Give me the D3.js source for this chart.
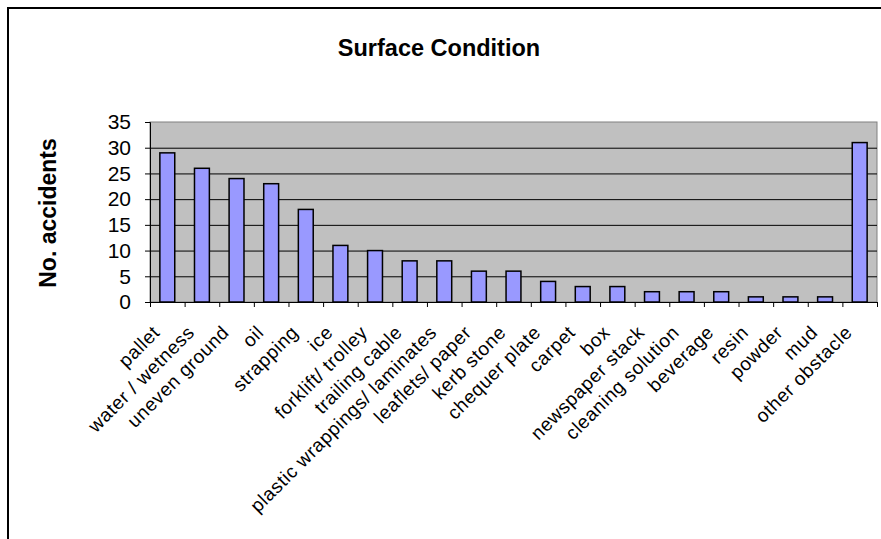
<!DOCTYPE html>
<html>
<head>
<meta charset="utf-8">
<script src="https://cdn.jsdelivr.net/npm/d3@7"></script>
<style>
  body { margin: 0; background: #fff; }
  svg { display: block; font-family: Arial, "Liberation Sans", sans-serif; }
</style>
</head>
<body>
<svg id="chart" width="881" height="539"></svg>
<script>
// Surface condition bar chart

const categories = [
  'pallet', 'water / wetness', 'uneven ground', 'oil', 'strapping', 'ice',
  'forklift/ trolley', 'trailing cable', 'plastic wrappings/ laminates',
  'leaflets/ paper', 'kerb stone', 'chequer plate', 'carpet', 'box',
  'newspaper stack', 'cleaning solution', 'beverage', 'resin', 'powder',
  'mud', 'other obstacle'
];
const accidents = [29, 26, 24, 23, 18, 11, 10, 8, 8, 6, 6, 4, 3, 3, 2, 2, 2, 1, 1, 1, 31];
const yTicks = [0, 5, 10, 15, 20, 25, 30, 35];

const W = 881, H = 539;
const plot = { left: 150, right: 877, top: 122, bottom: 302 };

const svg = d3.select('#chart');

// outer chart frame (runs off the right and bottom edges)
svg.append('rect')
  .attr('x', 8).attr('y', 8)
  .attr('width', W + 10).attr('height', H + 10)
  .attr('fill', '#fff')
  .attr('stroke', '#000')
  .attr('stroke-width', 2);

const x = d3.scaleBand()
  .domain(categories)
  .range([plot.left, plot.right])
  .paddingInner(0.57)
  .paddingOuter(0.285);

const y = d3.scaleLinear()
  .domain([0, 35])
  .range([plot.bottom, plot.top]);

// plot background
svg.append('rect')
  .attr('x', plot.left).attr('y', plot.top)
  .attr('width', plot.right - plot.left)
  .attr('height', plot.bottom - plot.top)
  .attr('fill', '#c0c0c0')
  .attr('stroke', '#808080')
  .attr('stroke-width', 1);

// gridlines
svg.append('g')
  .selectAll('line')
  .data(yTicks.filter(d => d > 0 && d < 35))
  .enter().append('line')
  .attr('x1', plot.left).attr('x2', plot.right)
  .attr('y1', d => y(d) + 0.5).attr('y2', d => y(d) + 0.5)
  .attr('stroke', '#000')
  .attr('stroke-width', 1);

// bars
svg.append('g')
  .selectAll('rect')
  .data(accidents)
  .enter().append('rect')
  .attr('x', (d, i) => x(categories[i]))
  .attr('y', d => y(d))
  .attr('width', x.bandwidth())
  .attr('height', d => plot.bottom - y(d))
  .attr('fill', '#9999ff')
  .attr('stroke', '#000')
  .attr('stroke-width', 1.5);

// y axis
const yAxis = svg.append('g')
  .attr('transform', `translate(${plot.left},0)`)
  .call(d3.axisLeft(y).tickValues(yTicks).tickSize(5).tickPadding(14));
yAxis.select('.domain').attr('stroke', '#000');
yAxis.selectAll('.tick line').attr('stroke', '#000');
yAxis.selectAll('.tick text')
  .attr('font-size', 21)
  .attr('font-family', 'Arial, "Liberation Sans", sans-serif')
  .attr('fill', '#000');

// x axis: baseline with ticks at category boundaries
const step = x.step();
const xg = svg.append('g');
xg.append('line')
  .attr('x1', plot.left).attr('x2', plot.right)
  .attr('y1', plot.bottom + 0.5).attr('y2', plot.bottom + 0.5)
  .attr('stroke', '#000');
xg.selectAll('line.tk')
  .data(d3.range(categories.length + 1))
  .enter().append('line')
  .attr('class', 'tk')
  .attr('x1', i => plot.left + i * step + 0.5)
  .attr('x2', i => plot.left + i * step + 0.5)
  .attr('y1', plot.bottom).attr('y2', plot.bottom + 5)
  .attr('stroke', '#000');

xg.selectAll('text')
  .data(categories)
  .enter().append('text')
  .attr('transform', d => `translate(${x(d) + x.bandwidth() / 2 - 11},${plot.bottom + 27}) rotate(-45)`)
  .attr('text-anchor', 'end')
  .attr('dy', '0.35em')
  .attr('font-size', 19)
  .attr('letter-spacing', 0.6)
  .attr('fill', '#000')
  .text(d => d);

// title
svg.append('text')
  .attr('x', 439).attr('y', 56)
  .attr('text-anchor', 'middle')
  .attr('font-size', 23.5)
  .attr('font-weight', 'bold')
  .text('Surface Condition');

// y axis title
svg.append('text')
  .attr('transform', 'translate(56,213) rotate(-90)')
  .attr('text-anchor', 'middle')
  .attr('font-size', 23)
  .attr('font-weight', 'bold')
  .text('No. accidents');
</script>
</body>
</html>
